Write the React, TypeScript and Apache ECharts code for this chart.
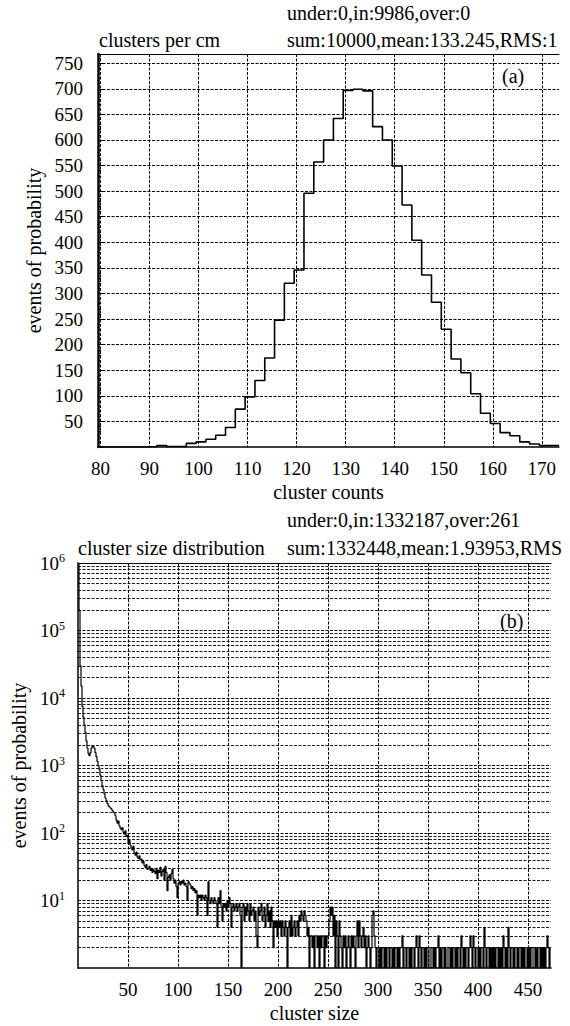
import React, { useEffect, useRef } from "react";
import * as echarts from "echarts";

const FONT = "Liberation Serif";

// ---------- (a) clusters per cm ----------
const countBinStart = 79.5;
const countBinWidth = 2;
const countAxisMin = 79.5;
const countAxisMax = 173.5;
const countYMax = 768;
const clustersPerCm = [
  0, 0, 0, 0, 0, 1, 3, 1, 1, 7,
  10, 15, 23, 38, 74, 98, 130, 174, 248, 320,
  346, 496, 557, 600, 642, 697, 699, 696, 626, 600,
  549, 473, 404, 336, 283, 230, 172, 145, 104, 66,
  46, 28, 22, 10, 6, 3, 3,
];

// ---------- (b) cluster size distribution ----------
const sizeBinStart = 0;
const sizeBinWidth = 1;
const sizeAxisMax = 473;
const sizeHead = [
  1000000, 200000, 30000, 15000, 7500, 5200, 4000, 3100, 2300, 1800,
  1500, 1400, 1550, 1800, 1950, 1900, 1800, 1550, 1350, 1150,
  1000, 870, 720, 600, 500, 440, 380, 330, 300, 275,
  255, 245, 235, 228, 215, 205, 198, 180, 155, 140,
  150, 128, 118, 112, 120, 102, 96, 108, 88, 92,
  70, 78, 66, 60, 56, 64, 50, 47, 52, 44,
  42, 46, 40, 41, 36, 38, 33, 31, 34, 29,
  30, 32, 28, 30, 26, 29, 27, 25, 30, 21,
  28, 26, 31, 23, 27, 29, 20, 32, 26, 14,
  22, 24, 20, 25, 29, 21, 18, 20, 16, 11,
];
const sizeMid = [
  18, 19, 17, 19, 18, 20, 17, 18, 16, 10,
  19, 18, 17, 15, 16, 14, 15, 13, 14, 6,
  12, 11, 12, 10, 12, 11, 10, 12, 11, 6,
  19, 10, 9, 11, 10, 9, 11, 10, 9, 4,
  11, 9, 14, 8, 5, 9, 8, 9, 7, 10,
  8, 11, 9, 4, 8, 9, 7, 8, 9, 7,
  8, 9, 6, 1, 8, 9, 5, 8, 6, 9,
  7, 5, 9, 6, 7, 8, 5, 7, 3, 2,
  8, 6, 7, 9, 5, 6, 8, 4, 6, 9,
  5, 7, 4, 8, 5, 2, 5, 4, 5, 3,
  5, 4, 5, 3, 5, 4, 3, 5, 4, 1,
  4, 5, 3, 6, 3, 4, 5, 3, 4, 5,
  3, 6, 5, 7, 6, 5, 7, 6, 5, 3,
  4, 1, 3, 3, 2, 3, 1, 3, 3, 2,
  3, 1, 3, 2, 3, 3, 1, 3, 2, 3,
  3, 5, 8, 6, 8, 3, 6, 1, 5, 3,
  1, 5, 3, 2, 1, 3, 2, 3, 1, 2,
  3, 2, 1, 3, 2, 3, 2, 1, 3, 5,
  2, 5, 3, 2, 3, 4, 2, 3, 1, 2,
  3, 2, 1, 2, 6, 7, 3, 2, 1, 2,
];
const sizeTail = [
  2, 1, 2, 1, 2, 2, 1, 2, 1, 2,
  2, 1, 2, 2, 1, 2, 1, 2, 2, 1,
  2, 1, 2, 2, 3, 1, 2, 2, 1, 2,
  2, 1, 2, 1, 2, 2, 1, 2, 3, 2,
  1, 3, 2, 1, 2, 2, 1, 2, 1, 2,
  2, 1, 1, 2, 2, 1, 2, 1, 2, 2,
  3, 1, 2, 1, 2, 2, 1, 2, 1, 1,
  2, 2, 1, 2, 1, 2, 2, 1, 2, 1,
  2, 2, 1, 3, 2, 1, 2, 1, 2, 2,
  1, 2, 3, 2, 1, 3, 2, 1, 2, 2,
  1, 2, 1, 2, 2, 1, 4, 2, 1, 2,
  2, 1, 2, 1, 2, 1, 2, 1, 2, 2,
  1, 2, 1, 2, 1, 3, 2, 1, 2, 1,
  4, 2, 1, 2, 2, 1, 2, 1, 1, 2,
  1, 2, 2, 1, 2, 1, 2, 1, 1, 2,
  1, 2, 1, 2, 2, 1, 1, 2, 1, 2,
  1, 1, 2, 1, 2, 1, 2, 1, 2, 3,
  2, 1, 2,
];
const logMin = 1;
const logMax = 1000000;
const minorDecades = [1, 10, 100, 1000, 10000, 100000];
const minorMultipliers = [2, 3, 4, 5, 6, 7, 8, 9];

// ---------- texts ----------
const titleA = "clusters per cm";
const statsA = ["under:0,in:9986,over:0", "sum:10000,mean:133.245,RMS:1"];
const tagA = "(a)";
const titleB = "cluster size distribution";
const statsB = ["under:0,in:1332187,over:261", "sum:1332448,mean:1.93953,RMS"];
const tagB = "(b)";
const yName = "events of probability";
const xNameA = "cluster counts";
const xNameB = "cluster size";

function stepData(start: number, width: number, counts: number[]) {
  const d = counts.map((v, i) => [start + i * width, v]);
  d.push([start + counts.length * width, counts[counts.length - 1]]);
  return d;
}

export default function App() {
  const ref = useRef<HTMLDivElement>(null);
  useEffect(() => {
    if (!ref.current) return;
    const chart = echarts.init(ref.current, undefined, { renderer: "svg" });
    const gridLine = { color: "#000", width: 1, type: [3, 1.5] as any };
    const black = { color: "#000" };
    const txt = (text: string, x: number, y: number) => ({
      type: "text",
      x,
      y,
      style: {
        text,
        fontSize: 20,
        fontFamily: FONT,
        fill: "#000",
        align: "left",
        verticalAlign: "middle",
      },
    });
    const sizeCounts = [...sizeHead, ...sizeMid, ...sizeTail];
    const minorLines: any[] = [];
    minorDecades.forEach((d) =>
      minorMultipliers.forEach((m) => minorLines.push({ yAxis: d * m }))
    );
    const option: any = {
      animation: false,
      backgroundColor: "#fff",
      textStyle: { fontFamily: FONT },
      grid: [
        { left: 98, top: 54, width: 461, height: 393, show: false },
        { left: 78, top: 563, width: 473, height: 405, show: false },
      ],
      xAxis: [
        {
          type: "value",
          gridIndex: 0,
          min: countAxisMin,
          max: countAxisMax,
          splitNumber: 10,
          name: xNameA,
          nameLocation: "middle",
          nameGap: 35,
          nameTextStyle: { fontSize: 20, fontFamily: FONT, ...black },
          axisLine: { show: true, onZero: false, lineStyle: { color: "#000", width: 1.5 } },
          axisTick: { show: false },
          axisLabel: {
            fontSize: 19,
            fontFamily: FONT,
            margin: 12,
            showMinLabel: false,
            showMaxLabel: false,
            ...black,
          },
          splitLine: { show: true, showMinLine: false, showMaxLine: false, lineStyle: gridLine },
        },
        {
          type: "value",
          gridIndex: 0,
          position: "top",
          min: countAxisMin,
          max: countAxisMax,
          axisLine: { show: true, onZero: false, lineStyle: { color: "#000", width: 1.2 } },
          axisTick: { show: false },
          axisLabel: { show: false },
          splitLine: { show: false },
        },
        {
          type: "value",
          gridIndex: 1,
          min: sizeBinStart,
          max: sizeAxisMax,
          interval: 50,
          name: xNameB,
          nameLocation: "middle",
          nameGap: 35,
          nameTextStyle: { fontSize: 20, fontFamily: FONT, ...black },
          axisLine: { show: true, onZero: false, lineStyle: { color: "#000", width: 1.5 } },
          axisTick: { show: false },
          axisLabel: {
            fontSize: 19,
            fontFamily: FONT,
            margin: 12,
            showMinLabel: false,
            showMaxLabel: false,
            ...black,
          },
          splitLine: { show: true, showMinLine: false, showMaxLine: false, lineStyle: gridLine },
        },
        {
          type: "value",
          gridIndex: 1,
          position: "top",
          min: sizeBinStart,
          max: sizeAxisMax,
          axisLine: { show: true, onZero: false, lineStyle: { color: "#000", width: 1.2 } },
          axisTick: { show: false },
          axisLabel: { show: false },
          splitLine: { show: false },
        },
      ],
      yAxis: [
        {
          type: "value",
          gridIndex: 0,
          min: 0,
          max: countYMax,
          interval: 50,
          name: yName,
          nameLocation: "middle",
          nameRotate: 90,
          nameGap: 51,
          nameTextStyle: { fontSize: 20, fontFamily: FONT, ...black },
          axisLine: { show: true, onZero: false, lineStyle: { color: "#000", width: 2.5 } },
          axisTick: { show: true, inside: true, length: 5, lineStyle: { color: "#000" } },
          minorTick: { show: true, splitNumber: 5, length: 3, lineStyle: { color: "#000" } },
          axisLabel: {
            fontSize: 19,
            fontFamily: FONT,
            margin: 15,
            showMinLabel: false,
            showMaxLabel: false,
            ...black,
          },
          splitLine: { show: true, showMinLine: false, showMaxLine: false, lineStyle: gridLine },
        },
        {
          type: "log",
          logBase: 10,
          gridIndex: 1,
          min: logMin,
          max: logMax,
          name: yName,
          nameLocation: "middle",
          nameRotate: 90,
          nameGap: 43,
          nameTextStyle: { fontSize: 20, fontFamily: FONT, ...black },
          axisLine: { show: true, onZero: false, lineStyle: { color: "#000", width: 1.5 } },
          axisTick: { show: false },
          axisLabel: {
            margin: 13,
            showMinLabel: false,
            formatter: (v: number) => `{b|10}{s|${Math.round(Math.log10(v))}}`,
            rich: {
              b: { fontSize: 19, fontFamily: FONT, color: "#000", lineHeight: 22 },
              s: { fontSize: 12, fontFamily: FONT, color: "#000", lineHeight: 12, verticalAlign: "top" },
            },
          },
          splitLine: { show: true, showMinLine: false, showMaxLine: false, lineStyle: gridLine },
        },
      ],
      series: [
        {
          type: "line",
          xAxisIndex: 0,
          yAxisIndex: 0,
          step: "end",
          showSymbol: false,
          symbol: "none",
          lineStyle: { color: "#000", width: 1.6 },
          data: stepData(countBinStart, countBinWidth, clustersPerCm),
        },
        {
          type: "line",
          xAxisIndex: 2,
          yAxisIndex: 1,
          step: "end",
          showSymbol: false,
          symbol: "none",
          lineStyle: { color: "#000", width: 1.2 },
          data: stepData(sizeBinStart, sizeBinWidth, sizeCounts),
          markLine: {
            silent: true,
            z: 1,
            symbol: "none",
            label: { show: false },
            lineStyle: { ...gridLine, width: 0.9 },
            data: minorLines,
          },
        },
      ],
      graphic: [
        txt(titleA, 99, 40),
        txt(statsA[0], 287, 13),
        txt(statsA[1], 287, 40),
        txt(tagA, 502, 76),
        txt(statsB[0], 287, 520),
        txt(titleB, 78, 548),
        txt(statsB[1], 287, 548),
        txt(tagB, 500, 621),
      ],
    };
    chart.setOption(option);
    return () => chart.dispose();
  }, []);
  return (
    <div
      ref={ref}
      style={{ position: "absolute", left: 0, top: 0, width: 570, height: 1026, background: "#fff" }}
    />
  );
}
